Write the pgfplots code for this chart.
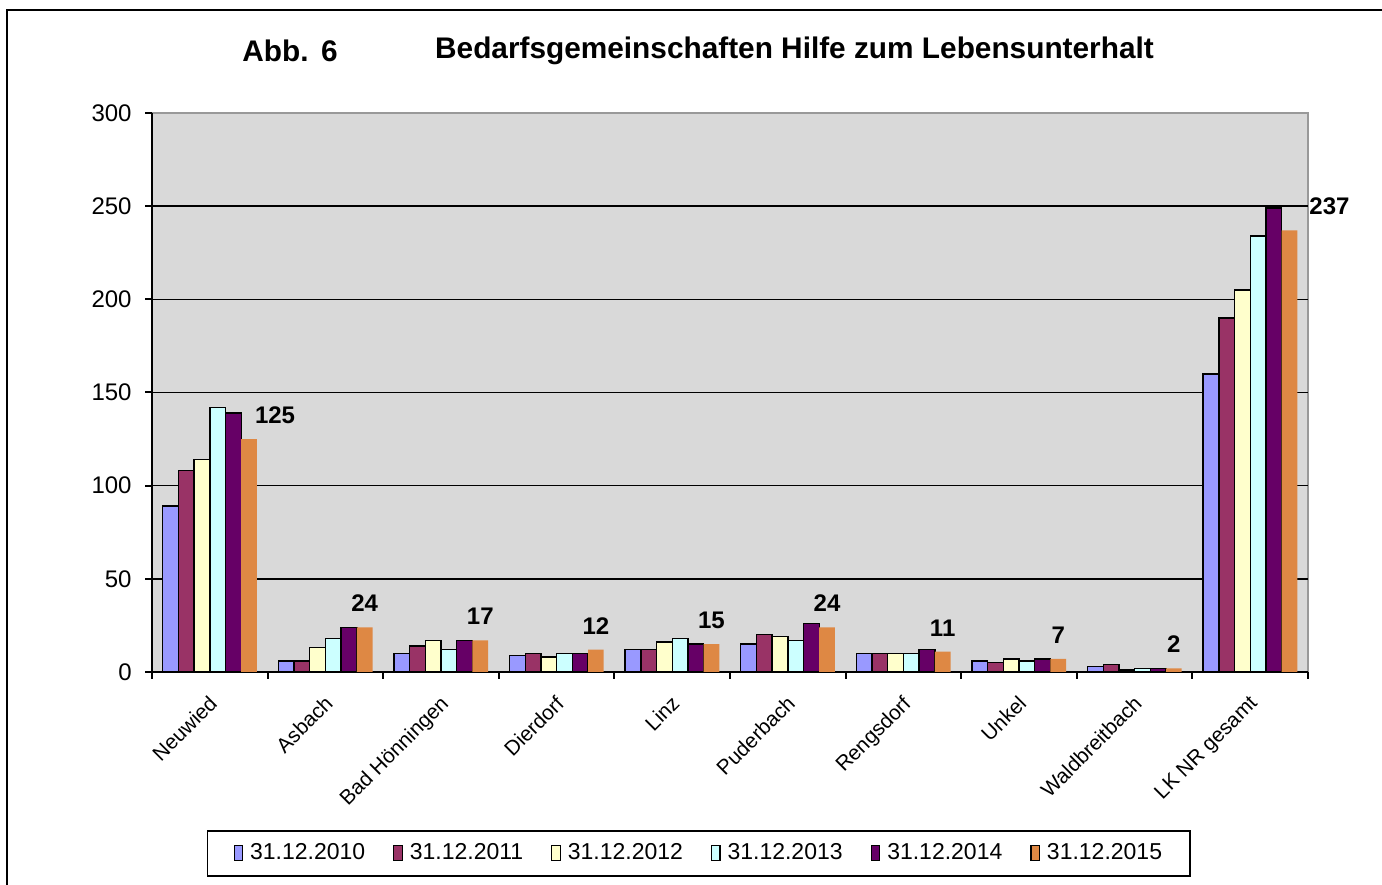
\documentclass[border=0pt]{standalone}
\usepackage{pgfplots}
\pgfplotsset{compat=1.18}
\usepackage{pgfplotstable}
\usepackage{fontspec}
\setmainfont{Liberation Sans}
\definecolor{cA}{HTML}{9999FF}
\definecolor{cB}{HTML}{993366}
\definecolor{cC}{HTML}{FFFFCC}
\definecolor{cD}{HTML}{CCFFFF}
\definecolor{cE}{HTML}{660066}
\definecolor{cF}{HTML}{DE8844}
\definecolor{bg}{HTML}{D9D9D9}

\pgfplotstableread{
x y2010 y2011 y2012 y2013 y2014 y2015
0 89 108 114 142 139 125
1 6 6 13 18 24 24
2 10 14 17 12 17 17
3 9 10 8 10 10 12
4 12 12 16 18 15 15
5 15 20 19 17 26 24
6 10 10 10 10 12 11
7 6 5 7 6 7 7
8 3 4 1 2 2 2
9 160 190 205 234 249 237
}\datatable

\begin{document}
\begin{tikzpicture}[x=1pt,y=1pt]
\useasboundingbox (0,0) rectangle (691,442);
\draw[line width=0.8pt] (3.5,-5) -- (3.5,437) -- (700,437);
\node[font=\fontsize{14.9}{18}\selectfont\bfseries] at (145,416.5) {Abb.\hspace{0.42em}6};
\node[font=\fontsize{14.9}{18}\selectfont\bfseries] at (397.25,416.5) {Bedarfsgemeinschaften Hilfe zum Lebensunterhalt};
\begin{axis}[
  at={(76pt,106pt)}, anchor=south west,
  scale only axis, width=578pt, height=279.5pt,
  xmin=-0.5, xmax=9.5, ymin=0, ymax=300,
  ybar=0pt, bar width=7.85pt,
  axis x line*=bottom, axis y line*=left,
  axis line style={-, black, line width=1pt},
  axis background/.style={fill=bg, draw=gray!80, line width=0.8pt},
  clip=false,
  /pgf/number format/assume math mode=true,
  ytick={0,50,...,300},
  extra y ticks={50,100,...,250},
  extra y tick labels={},
  extra y tick style={grid=major, major grid style={black, line width=0.7pt}, tick style={draw=none}},
  ytick style={black, line width=1pt},
  tick align=outside,
  major tick length=3.5pt,
  yticklabel style={font=\fontsize{12}{14}\selectfont, inner sep=0pt, xshift=-6.5pt},
  xtick={0,...,9},
  xticklabels={Neuwied, Asbach, Bad Hönningen, Dierdorf, Linz, Puderbach, Rengsdorf, Unkel, Waldbreitbach, LK NR gesamt},
  major x tick style={draw=none},
  minor xtick={-0.5,0.5,...,9.5},
  minor x tick style={black, line width=1pt},
  minor tick length=3.5pt,
  xticklabel style={font=\fontsize{10.4}{12}\selectfont, rotate=45, anchor=north east, inner sep=0pt, xshift=-6pt, yshift=-4.5pt},
  legend columns=6,
  legend image code/.code={\draw[#1, line width=0.6pt] (0pt,-3.7pt) rectangle (4.2pt,3.7pt);},
  legend style={at={(0.473,-0.2826)}, anchor=north, draw=black, line width=0.8pt,
    font=\fontsize{11.5}{13}\selectfont, inner xsep=13pt, inner ysep=5.5pt,
    nodes={inner sep=1pt},
    /tikz/every odd column/.append style={column sep=2.5pt},
    /tikz/every even column/.append style={column sep=13pt}},
]
\addplot[fill=cA, draw=black, line width=0.7pt] table[x=x, y=y2010] {\datatable};
\addplot[fill=cB, draw=black, line width=0.7pt] table[x=x, y=y2011] {\datatable};
\addplot[fill=cC, draw=black, line width=0.7pt] table[x=x, y=y2012] {\datatable};
\addplot[fill=cD, draw=black, line width=0.7pt] table[x=x, y=y2013] {\datatable};
\addplot[fill=cE, draw=black, line width=0.7pt] table[x=x, y=y2014] {\datatable};
\addplot[fill=cF, draw=none,
  nodes near coords,
  every node near coord/.append style={font=\fontsize{12}{14}\selectfont\bfseries, anchor=south, inner sep=0pt, yshift=7.5pt},
  coordinate style/.condition={\coordindex==0}{xshift=13pt},
  coordinate style/.condition={\coordindex==9}{xshift=20pt},
  ] table[x=x, y=y2015] {\datatable};
\legend{31.12.2010, 31.12.2011, 31.12.2012, 31.12.2013, 31.12.2014, 31.12.2015}
\end{axis}
\end{tikzpicture}
\end{document}
